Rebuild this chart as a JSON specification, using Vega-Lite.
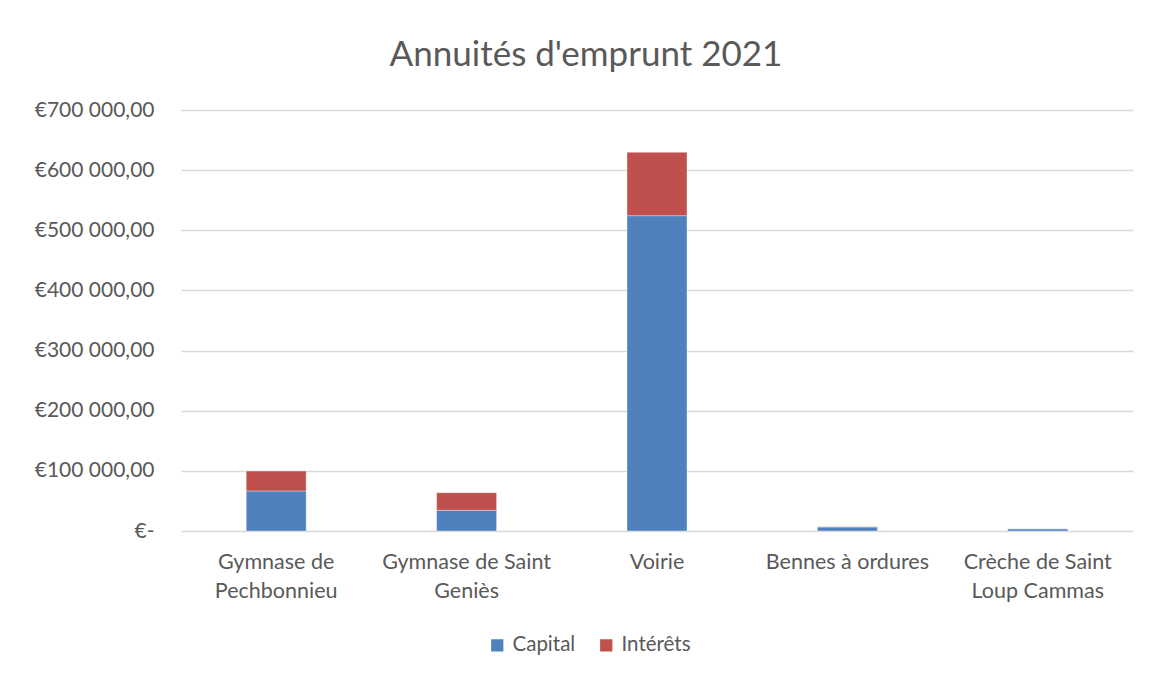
{
  "$schema": "https://vega.github.io/schema/vega-lite/v6.json",
  "width": 952,
  "height": 421,
  "autosize": {"type": "none"},
  "padding": {"left": 181, "top": 110, "right": 19, "bottom": 144},
  "background": "white",
  "title": {
    "text": "Annuités d'emprunt 2021",
    "font": "Lato",
    "fontSize": 35,
    "fontWeight": "normal",
    "color": "#595959",
    "anchor": "middle",
    "dx": -71,
    "offset": 26
  },
  "data": {
    "values": [
      {"projet": "Gymnase de Pechbonnieu", "type": "Capital", "ord": 1, "montant": 66500},
      {"projet": "Gymnase de Pechbonnieu", "type": "Intérêts", "ord": 2, "montant": 33300},
      {"projet": "Gymnase de Saint Geniès", "type": "Capital", "ord": 1, "montant": 34400},
      {"projet": "Gymnase de Saint Geniès", "type": "Intérêts", "ord": 2, "montant": 29300},
      {"projet": "Voirie", "type": "Capital", "ord": 1, "montant": 524300},
      {"projet": "Voirie", "type": "Intérêts", "ord": 2, "montant": 105400},
      {"projet": "Bennes à ordures", "type": "Capital", "ord": 1, "montant": 6800},
      {"projet": "Bennes à ordures", "type": "Intérêts", "ord": 2, "montant": 300},
      {"projet": "Crèche de Saint Loup Cammas", "type": "Capital", "ord": 1, "montant": 3700},
      {"projet": "Crèche de Saint Loup Cammas", "type": "Intérêts", "ord": 2, "montant": 200}
    ]
  },
  "mark": {"type": "bar", "stroke": "white", "strokeWidth": 0.6, "strokeOpacity": 0.6},
  "encoding": {
    "x": {
      "field": "projet",
      "type": "nominal",
      "sort": null,
      "scale": {"paddingInner": 0.685, "paddingOuter": 0.3425},
      "axis": {
        "title": null,
        "labelAngle": 0,
        "labelFont": "Lato",
        "labelFontSize": 21.5,
        "labelColor": "#595959",
        "labelPadding": 20,
        "labelLineHeight": 29,
        "labelLimit": 300,
        "ticks": false,
        "domain": false,
        "labelExpr": "datum.label == 'Gymnase de Pechbonnieu' ? ['Gymnase de', 'Pechbonnieu'] : datum.label == 'Gymnase de Saint Geniès' ? ['Gymnase de Saint', 'Geniès'] : datum.label == 'Crèche de Saint Loup Cammas' ? ['Crèche de Saint', 'Loup Cammas'] : datum.label"
      }
    },
    "y": {
      "field": "montant",
      "type": "quantitative",
      "stack": "zero",
      "scale": {"domain": [0, 700000], "nice": false},
      "axis": {
        "title": null,
        "values": [0, 100000, 200000, 300000, 400000, 500000, 600000, 700000],
        "labelFont": "Lato",
        "labelFontSize": 21,
        "labelColor": "#595959",
        "labelPadding": 27,
        "ticks": false,
        "domain": false,
        "grid": true,
        "gridColor": "#d9d9d9",
        "gridWidth": 1.5,
        "labelExpr": "datum.value == 0 ? '€-       ' : '€' + replace(replace(format(datum.value, ',.2f'), ',', ' '), '.', ',')"
      }
    },
    "color": {
      "field": "type",
      "type": "nominal",
      "scale": {"domain": ["Capital", "Intérêts"], "range": ["#4F81BD", "#C0504D"]},
      "legend": {
        "title": null,
        "orient": "none",
        "direction": "horizontal",
        "legendX": 306,
        "legendY": 525,
        "symbolType": "square",
        "symbolSize": 150,
        "symbolStrokeWidth": 0,
        "labelFont": "Lato",
        "labelFontSize": 20.5,
        "labelColor": "#595959",
        "labelOffset": 5,
        "columnPadding": 20
      }
    },
    "order": {"field": "ord", "type": "quantitative"}
  },
  "config": {
    "view": {"stroke": null}
  }
}
